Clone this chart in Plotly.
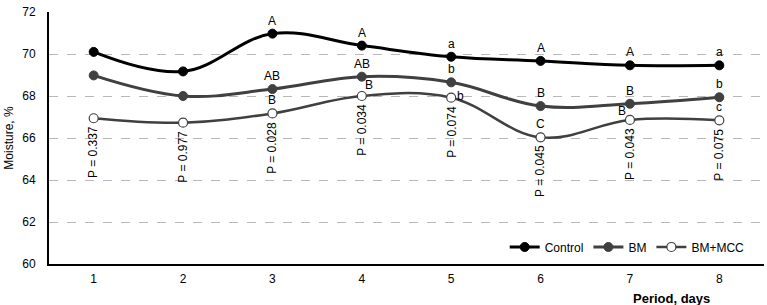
import plotly.graph_objects as go

days = ["1", "2", "3", "4", "5", "6", "7", "8"]
control = [70.1, 69.17, 70.97, 70.4, 69.87, 69.67, 69.46, 69.46]
bm = [68.98, 68.0, 68.33, 68.92, 68.65, 67.52, 67.63, 67.94]
bm_mcc = [66.94, 66.73, 67.17, 68.0, 67.92, 66.03, 66.86, 66.84]

control_letters = ["", "", "A", "A", "a", "A", "A", "a"]
bm_letters = ["", "", "AB", "AB", "b", "B", "B", "b"]
mcc_letters = ["", "", "B", "B", "b", "C", "B", "c"]
p_values = ["0.337", "0.977", "0.028", "0.034", "0.074", "0.045", "0.043", "0.075"]

FONT = "Liberation Sans, Arial, sans-serif"
GRAY = "#404040"
SM = 1.1

fig = go.Figure()
fig.add_trace(go.Scatter(x=days, y=control, name="Control", mode="lines+markers",
                         line=dict(color="black", width=3, shape="spline", smoothing=SM),
                         marker=dict(color="black", size=9, line=dict(color="black", width=1))))
fig.add_trace(go.Scatter(x=days, y=bm, name="BM", mode="lines+markers",
                         line=dict(color=GRAY, width=3, shape="spline", smoothing=SM),
                         marker=dict(color=GRAY, size=9, line=dict(color=GRAY, width=1))))
fig.add_trace(go.Scatter(x=days, y=bm_mcc, name="BM+MCC", mode="lines+markers",
                         line=dict(color=GRAY, width=2.5, shape="spline", smoothing=SM),
                         marker=dict(color="white", size=9, line=dict(color=GRAY, width=1.2))))

ann = []
for i, d in enumerate(days):
    if control_letters[i]:
        ann.append(dict(x=i, y=control[i], text=control_letters[i], showarrow=False,
                        yshift=13, font=dict(size=12, color="black", family=FONT)))
    if bm_letters[i]:
        ann.append(dict(x=i, y=bm[i], text=bm_letters[i], showarrow=False,
                        yshift=13, font=dict(size=12, color="black", family=FONT)))
    if mcc_letters[i]:
        xs, ys = 0, 13
        if i == 3:
            xs, ys = 7, 11
        elif i == 4:
            xs, ys = 9, 2
        elif i == 6:
            xs, ys = -8, 9
        ann.append(dict(x=i, y=bm_mcc[i], text=mcc_letters[i], showarrow=False,
                        xshift=xs, yshift=ys, font=dict(size=12, color="black", family=FONT)))
    ann.append(dict(x=i, y=bm_mcc[i], text="P = " + p_values[i], showarrow=False,
                    textangle=-90, yanchor="top", yshift=-6,
                    font=dict(size=12, color="black", family=FONT)))

ann.append(dict(xref="paper", yref="paper", x=0.871, y=-0.1, text="<b>Period, days</b>",
                showarrow=False, yanchor="top", xanchor="center",
                font=dict(size=13, color="black", family=FONT)))

fig.update_layout(
    width=767, height=305,
    margin=dict(l=49, r=3, t=12, b=41),
    plot_bgcolor="white", paper_bgcolor="white",
    font=dict(family=FONT, size=12, color="black"),
    annotations=ann,
    legend=dict(orientation="h", x=0.98, xanchor="right", y=0.01, yanchor="bottom",
                bgcolor="rgba(0,0,0,0)", itemwidth=30, font=dict(size=12, family=FONT),
                tracegroupgap=0),
    xaxis=dict(type="category", range=[-0.5, 7.5], showline=True, linecolor="black",
               linewidth=2, showgrid=False, ticks="outside", ticklen=3, tickcolor="white",
               tickfont=dict(size=12)),
    yaxis=dict(range=[60, 72], dtick=2, showline=True, linecolor="black", linewidth=2,
               showgrid=True, gridcolor="#b8b8b8", griddash="dash", gridwidth=1,
               zeroline=False, ticks="outside", ticklen=9, tickcolor="white",
               tickfont=dict(size=12),
               title=dict(text="Moisture, %", font=dict(size=12), standoff=6)),
)
fig.write_html("out.html", config={"displayModeBar": False},
               post_script="document.body.style.margin='0';document.body.style.overflow='hidden';")
